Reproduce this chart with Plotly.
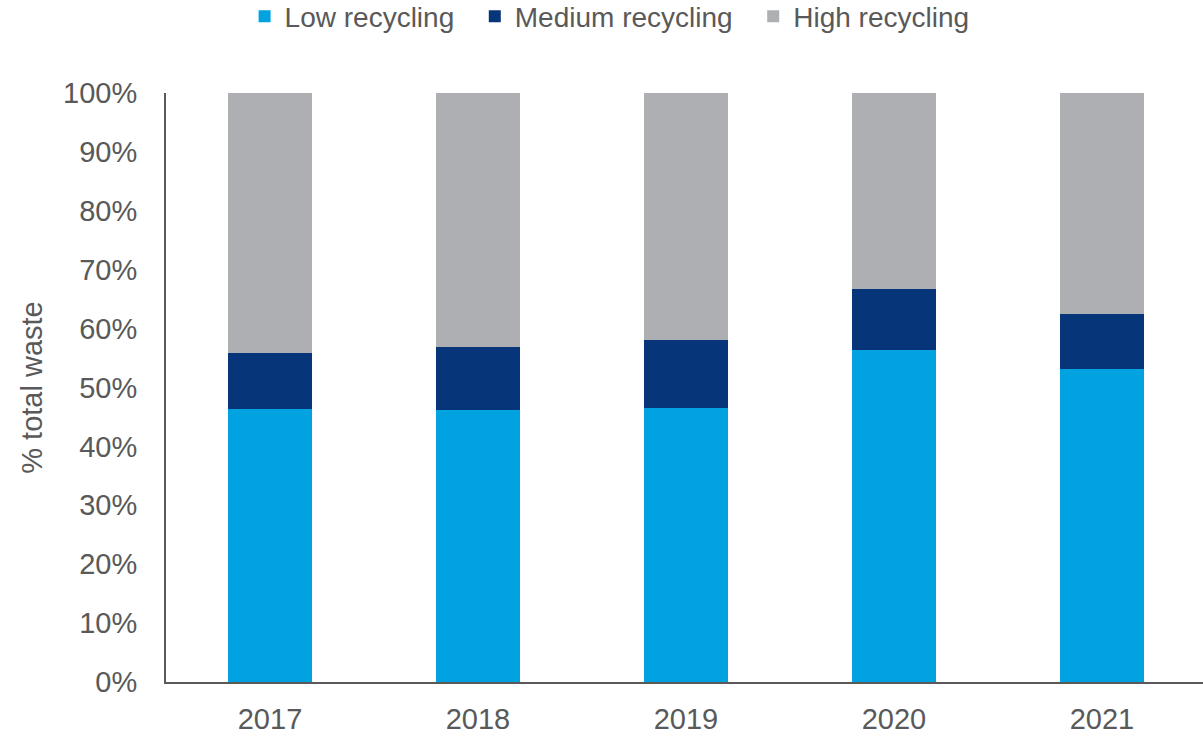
import plotly.graph_objects as go

years = ["2017", "2018", "2019", "2020", "2021"]
low_recycling = [46.3, 46.1, 46.6, 56.3, 53.1]
medium_recycling = [9.6, 10.7, 11.4, 10.5, 9.3]
high_recycling = [100 - a - b for a, b in zip(low_recycling, medium_recycling)]

series = [
    ("Low recycling", low_recycling, "#00A3E0"),
    ("Medium recycling", medium_recycling, "#06357A"),
    ("High recycling", high_recycling, "#ADAFB2"),
]

text_color = "#595959"
font_family = "Liberation Sans, Arial, sans-serif"
pad = "\u00a0\u00a0"  # extra spacing between legend entries

fig = go.Figure()
for name, values, color in series:
    fig.add_trace(go.Bar(
        x=years, y=values, name=name + pad,
        marker=dict(color=color, line=dict(width=0)),
        width=0.405,
    ))

fig.update_layout(
    barmode="stack",
    width=1203, height=738,
    margin=dict(l=166, r=0, t=93, b=56, autoexpand=False),
    paper_bgcolor="white", plot_bgcolor="white",
    font=dict(family=font_family, color=text_color, size=29),
    showlegend=True,
    legend=dict(
        orientation="h",
        x=0.435, xanchor="center",
        y=1.13, yanchor="middle",
        font=dict(size=28, color=text_color),
        itemwidth=30,
        traceorder="normal",
    ),
    xaxis=dict(
        range=[-0.5, 4.486],
        showline=True, linecolor=text_color, linewidth=2,
        showgrid=False, ticks="",
        tickfont=dict(size=29, color=text_color),
        ticklabelstandoff=10,
    ),
    yaxis=dict(
        range=[0, 100],
        tickvals=list(range(0, 101, 10)),
        ticktext=[f"{v}%" for v in range(0, 101, 10)],
        showline=True, linecolor=text_color, linewidth=2,
        showgrid=False, zeroline=False, ticks="",
        tickfont=dict(size=29, color=text_color),
        ticklabelstandoff=21,
        title=dict(text="% total waste", font=dict(size=29, color=text_color), standoff=12),
    ),
)

fig.write_html("out.html")
